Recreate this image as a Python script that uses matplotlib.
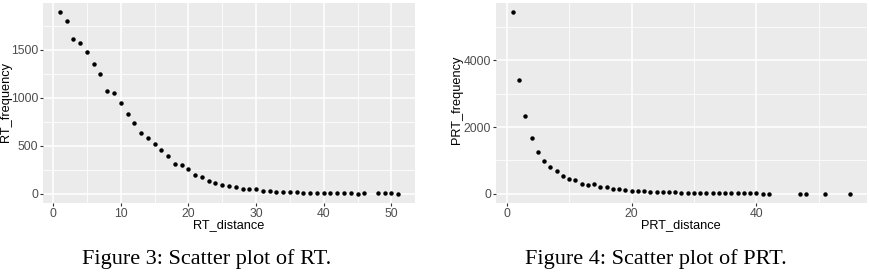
import matplotlib
matplotlib.use("Agg")
from matplotlib import pyplot as plt
from matplotlib.ticker import MultipleLocator

# ================================================================
# 0. Data
# ================================================================
rt_distance = list(range(1, 47)) + [48, 49, 50, 51]
rt_frequency = [1892, 1802, 1611, 1569, 1472, 1354, 1250, 1073, 1052, 944,
                830, 740, 639, 580, 524, 462, 392, 309, 299, 260,
                201, 181, 130, 110, 90, 80, 73, 56, 52, 52,
                31, 31, 24, 21, 17, 17, 14, 14, 10, 7,
                7, 7, 7, 7, 3, 7, 7, 7, 7, 3]

prt_distance = list(range(1, 43)) + [47, 48, 51, 55]
prt_frequency = [5440, 3420, 2320, 1670, 1260, 980, 800, 690, 550, 450,
                 410, 290, 280, 300, 200, 210, 150, 150, 120, 90,
                 90, 90, 70, 60, 55, 50, 45, 40, 38, 35,
                 32, 30, 28, 26, 24, 22, 20, 18, 16, 14,
                 12, 12, 5, 5, 4, 3]

captions = ["Figure 3: Scatter plot of RT.", "Figure 4: Scatter plot of PRT."]

W, H = 870, 272


# ================================================================
# 1. Helpers
# ================================================================
def gg_axes(fig, left, top, right, bottom):
    ax = fig.add_axes([left / W, 1 - bottom / H, (right - left) / W, (bottom - top) / H])
    ax.set_facecolor("#EBEBEB")
    for s in ax.spines.values():
        s.set_visible(False)
    ax.grid(which="major", color="white", linewidth=1.1)
    ax.grid(which="minor", color="white", linewidth=0.55)
    ax.set_axisbelow(True)
    ax.tick_params(which="major", length=2.4, width=0.8, color="#333333",
                   labelcolor="#4D4D4D", labelsize=8.7, pad=1.2)
    ax.tick_params(which="minor", length=0)
    return ax


def expand(lo, hi, f=0.05):
    d = (hi - lo) * f
    return lo - d, hi + d


# ================================================================
# 2. Plot
# ================================================================
plt.rcParams["font.family"] = ["Liberation Sans", "DejaVu Sans"]
fig = plt.figure(figsize=(W / 100, H / 100), dpi=100)

# left: RT
ax1 = gg_axes(fig, 43, 3, 415, 203)
ax1.plot(rt_distance, rt_frequency, "o", color="black", markersize=3.2, markeredgewidth=0)
ax1.set_xlim(*expand(min(rt_distance), max(rt_distance)))
ax1.set_ylim(*expand(0, max(rt_frequency)))
ax1.xaxis.set_major_locator(MultipleLocator(10))
ax1.xaxis.set_minor_locator(MultipleLocator(5))
ax1.yaxis.set_major_locator(MultipleLocator(500))
ax1.yaxis.set_minor_locator(MultipleLocator(250))

# right: PRT
ax2 = gg_axes(fig, 496, 3, 867, 203)
ax2.plot(prt_distance, prt_frequency, "o", color="black", markersize=3.2, markeredgewidth=0)
ax2.set_xlim(*expand(min(prt_distance), max(prt_distance)))
ax2.set_ylim(*expand(0, max(prt_frequency)))
ax2.xaxis.set_major_locator(MultipleLocator(20))
ax2.xaxis.set_minor_locator(MultipleLocator(10))
ax2.yaxis.set_major_locator(MultipleLocator(2000))
ax2.yaxis.set_minor_locator(MultipleLocator(1000))

# axis titles
fig.text(229 / W, 1 - 225 / H, "RT_distance", ha="center", va="center", fontsize=9.2)
fig.text(6 / W, 1 - 102 / H, "RT_frequency", ha="center", va="center", rotation=90, fontsize=9.2)
fig.text(681 / W, 1 - 225 / H, "PRT_distance", ha="center", va="center", fontsize=9.2)
fig.text(457 / W, 1 - 100 / H, "PRT_frequency", ha="center", va="center", rotation=90, fontsize=9.2)

# captions
fig.text(207 / W, 1 - 264 / H, captions[0], ha="center", va="baseline",
         fontsize=16, family="Liberation Serif")
fig.text(656 / W, 1 - 264 / H, captions[1], ha="center", va="baseline",
         fontsize=16, family="Liberation Serif")

fig.savefig("out.png", dpi=100, facecolor="white")
